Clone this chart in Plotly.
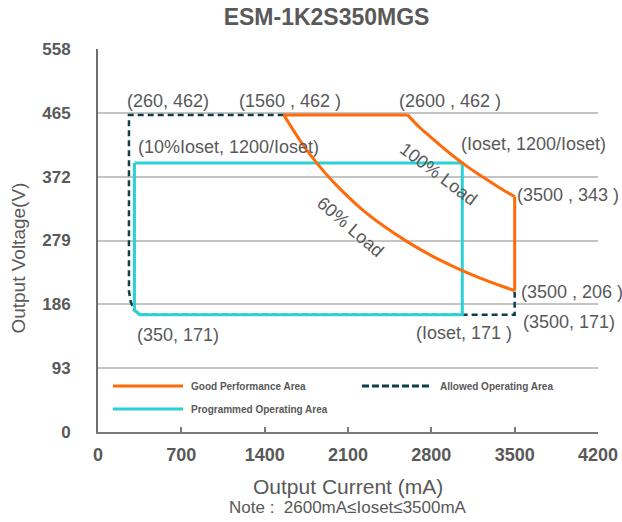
import plotly.graph_objects as go

# ---- data (output current in mA, output voltage in V) ----
# Good performance area: 100% load curve and 60% load curve
load100_i = [2600, 2700, 2800, 2900, 3000, 3100, 3200, 3300, 3400, 3500]
load100_v = [462, 444, 429, 414, 400, 387, 375, 364, 353, 343]
load60_i = [1560, 1700, 1800, 1900, 2000, 2200, 2400, 2600, 2800, 3000, 3200, 3400, 3500]
load60_v = [462, 424, 400, 379, 360, 327, 300, 277, 257, 240, 225, 212, 206]
top_i = [1560, 2600]
top_v = [462, 462]
right_i = [3500, 3500]
right_v = [343, 206]

# Allowed operating area (dashed outline)
allowed_i = [1560, 260, 260, 275, 300, 350, 3500, 3500]
allowed_v = [462, 462, 205, 190, 178, 171, 171, 206]

# Programmed operating area (Ioset = 3060 mA)
prog_i = [306, 3060, 3060, 350, 306, 306]
prog_v = [392, 392, 171, 171, 178, 392]

# axis ticks
x_ticks = [0, 700, 1400, 2100, 2800, 3500, 4200]
y_ticks = [0, 93, 186, 279, 372, 465, 558]

ORANGE = "#FF6A0A"
CYAN = "#2AD2D6"
DARK = "#0E3F4B"
TXT = "#595959"
FONT = "Liberation Sans, Arial, sans-serif"

fig = go.Figure()

fig.add_trace(go.Scatter(x=allowed_i, y=allowed_v, mode="lines",
                         line=dict(color=DARK, width=2.5, dash="6px,4px"),
                         showlegend=False, hoverinfo="skip"))
fig.add_trace(go.Scatter(x=prog_i, y=prog_v, mode="lines",
                         line=dict(color=CYAN, width=3),
                         showlegend=False, hoverinfo="skip"))
for xs, ys, shape in [(load60_i, load60_v, "spline"),
                      (load100_i, load100_v, "spline"),
                      (top_i, top_v, "linear"),
                      (right_i, right_v, "linear")]:
    fig.add_trace(go.Scatter(x=xs, y=ys, mode="lines",
                             line=dict(color=ORANGE, width=3, shape=shape),
                             showlegend=False, hoverinfo="skip"))

# point labels
labels = [
    ("(260, 462)", 590, 482, "center", 0),
    ("(1560 , 462 )", 1615, 482, "center", 0),
    ("(2600 , 462 )", 2960, 482, "center", 0),
    ("(Ioset, 1200/Ioset)", 3654, 420, "center", 0),
    ("(10%Ioset, 1200/Ioset)", 1099, 415, "center", 0),
    ("(3500 , 343 )", 3506, 345, "left", 0),
    ("(3500 , 206 )", 3533, 204, "left", 0),
    ("(3500, 171)", 3553, 160, "left", 0),
    ("(Ioset, 171 )", 3073, 144, "center", 0),
    ("(350, 171)", 670, 141, "center", 0),
    ("100% Load", 2860, 376, "center", 37),
    ("60% Load", 2120, 299, "center", 41),
]
annotations = []
for text, x, y, anchor, ang in labels:
    annotations.append(dict(text=text, x=x, y=y, xref="x", yref="y",
                            xanchor=anchor, yanchor="middle", showarrow=False,
                            textangle=ang,
                            font=dict(family=FONT, size=18, color=TXT)))

# axis titles and note
annotations += [
    dict(text="Output Current (mA)", x=0.5, y=-0.141, xref="paper", yref="paper",
         xanchor="center", yanchor="middle", showarrow=False,
         font=dict(family=FONT, size=21, color=TXT)),
    dict(text="Note :  2600mA≤Ioset≤3500mA", x=0.5, y=-0.198, xref="paper", yref="paper",
         xanchor="center", yanchor="middle", showarrow=False,
         font=dict(family=FONT, size=17, color=TXT)),
    dict(text="Output Voltage(V)", x=-0.159, y=0.454, xref="paper", yref="paper",
         xanchor="center", yanchor="middle", showarrow=False, textangle=-90,
         font=dict(family=FONT, size=19, color=TXT)),
]

# legend drawn inside the plot area
legend_items = [
    ("Good Performance Area", ORANGE, "solid", 0.03, 0.12),
    ("Allowed Operating Area", DARK, "7px,3px", 0.528, 0.12),
    ("Programmed Operating Area", CYAN, "solid", 0.03, 0.06),
]
shapes = []
for name, color, dash, x0, y0 in legend_items:
    shapes.append(dict(type="line", xref="paper", yref="paper",
                       x0=x0, x1=x0 + 0.14, y0=y0, y1=y0,
                       line=dict(color=color, width=3, dash=dash)))
    annotations.append(dict(text="<b>" + name + "</b>", x=x0 + 0.151, y=y0,
                            xref="paper", yref="paper", xanchor="left",
                            yanchor="middle", showarrow=False,
                            font=dict(family=FONT, size=10, color=TXT)))

fig.update_layout(
    width=622, height=522,
    margin=dict(l=98, r=24, t=49, b=90, autoexpand=False),
    paper_bgcolor="white", plot_bgcolor="white",
    title=dict(text="<b>ESM-1K2S350MGS</b>", x=0.525, xanchor="center",
               y=0.967, yanchor="middle",
               font=dict(family=FONT, size=23, color=TXT)),
    annotations=annotations,
    shapes=shapes,
    showlegend=False,
)
fig.update_xaxes(range=[0, 4200], tickvals=x_ticks, showgrid=False, zeroline=False,
                 showline=True, linecolor="#7A7A7A", linewidth=2,
                 ticks="inside", ticklen=5, tickcolor="#7A7A7A", tickwidth=1.5,
                 ticklabelstandoff=5, automargin=False,
                 tickfont=dict(family=FONT, size=18, color=TXT, weight="bold"))
fig.update_yaxes(range=[0, 558], tickvals=y_ticks, showgrid=True,
                 gridcolor="#C4C4C4", gridwidth=2, zeroline=False,
                 showline=True, linecolor="#6E6E6E", linewidth=2,
                 ticks="", ticklabelstandoff=22, automargin=False,
                 tickfont=dict(family=FONT, size=17, color=TXT, weight="bold"))

fig.write_html("out.html")
